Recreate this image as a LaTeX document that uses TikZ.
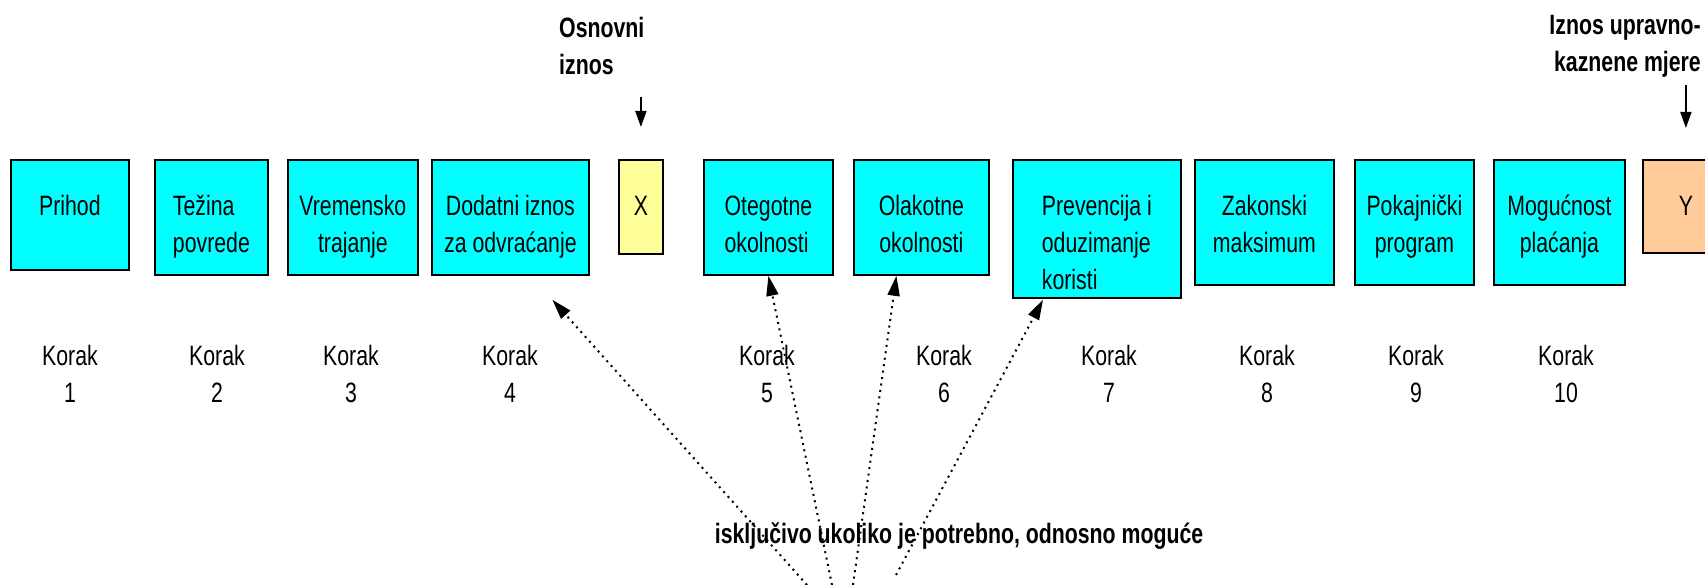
\documentclass[tikz,border=0pt]{standalone}
\usepackage{fontspec}
\setmainfont{Liberation Sans}[FakeStretch=0.76]
\usepackage{tikz}
\usetikzlibrary{arrows.meta}
\tikzset{stepbox/.style = {draw, line width = 1.8pt, inner sep = 0, anchor = north west, align = center, text height = 56pt, font = \fontsize{28}{37}\selectfont}}
\tikzset{korak/.style = {inner sep = 0, anchor = north, align = center, font = \fontsize{28}{37}\selectfont}}
\tikzset{note/.style = {inner sep = 0, font = \fontsize{28}{37}\selectfont\bfseries}}
\tikzset{dotarrow/.style = {line width = 2pt, dash pattern = on 2pt off 4.5pt, -{Triangle[length = 20pt, width = 12pt]}}}
\tikzset{downarrow/.style = {line width = 1.8pt, -{Triangle[length = 16pt, width = 11pt]}}}
\definecolor{mcyan}{rgb}{0, 1, 1}
\definecolor{myellow}{rgb}{1, 1, 0.6}
\definecolor{mpeach}{rgb}{1, 0.8, 0.6}

\begin{document}
\begin{tikzpicture}[x = 1pt, y = -1pt]
      \useasboundingbox (0, 0) rectangle (1705, 585);
      \clip (0, 0) rectangle (1705, 585);

      % text height = first baseline + 37pt per further line
      \node [stepbox, fill = mcyan, minimum width = 118pt, text depth = 54pt] (prihod) at (10, 159) {Prihod};
      \node [stepbox, fill = mcyan, minimum width = 113pt, text height = 93pt, text depth = 22pt, align = left] (tezina) at (154, 159) {Težina\\povrede};
      \node [stepbox, fill = mcyan, minimum width = 130pt, text height = 93pt, text depth = 22pt] (vremensko) at (287, 159) {Vremensko\\trajanje};
      \node [stepbox, fill = mcyan, minimum width = 157pt, text height = 93pt, text depth = 22pt] (dodatni) at (431, 159) {Dodatni iznos\\za odvraćanje};
      \node [stepbox, fill = myellow, minimum width = 44pt, text depth = 38pt] (xbox) at (618, 159) {X};
      \node [stepbox, fill = mcyan, minimum width = 129pt, text height = 93pt, text depth = 22pt, align = left] (otegotne) at (703, 159) {Otegotne\\okolnosti};
      \node [stepbox, fill = mcyan, minimum width = 135pt, text height = 93pt, text depth = 22pt] (olakotne) at (853, 159) {Olakotne\\okolnosti};
      \node [stepbox, fill = mcyan, minimum width = 168pt, text height = 130pt, text depth = 8pt, align = left] (prevencija) at (1012, 159) {Prevencija i\\oduzimanje\\koristi};
      \node [stepbox, fill = mcyan, minimum width = 139pt, text height = 93pt, text depth = 32pt] (zakonski) at (1194, 159) {Zakonski\\maksimum};
      \node [stepbox, fill = mcyan, minimum width = 119pt, text height = 93pt, text depth = 32pt] (pokajnicki) at (1354, 159) {Pokajnički\\program};
      \node [stepbox, fill = mcyan, minimum width = 131pt, text height = 93pt, text depth = 32pt] (mogucnost) at (1493, 159) {Mogućnost\\plaćanja};
      \node [stepbox, fill = mpeach, minimum width = 86pt, text depth = 37pt] (ybox) at (1642, 159) {Y};

      \node [korak] (korak1) at (70, 345) {Korak\\1};
      \node [korak] (korak2) at (217, 345) {Korak\\2};
      \node [korak] (korak3) at (351, 345) {Korak\\3};
      \node [korak] (korak4) at (510, 345) {Korak\\4};
      \node [korak] (korak5) at (767, 345) {Korak\\5};
      \node [korak] (korak6) at (944, 345) {Korak\\6};
      \node [korak] (korak7) at (1109, 345) {Korak\\7};
      \node [korak] (korak8) at (1267, 345) {Korak\\8};
      \node [korak] (korak9) at (1416, 345) {Korak\\9};
      \node [korak] (korak10) at (1566, 345) {Korak\\10};

      \node [note, anchor = north west, align = left] (osnovni) at (559, 17) {Osnovni\\iznos};
      \node [note, anchor = north east, align = right] (iznos) at (1701, 15) {Iznos upravno-\\kaznene mjere};
      \draw [downarrow] ([yshift = 62pt]xbox.north) -- ([yshift = 32pt]xbox.north);
      \draw [downarrow] ([yshift = 74pt]ybox.north) -- ([yshift = 31pt]ybox.north);

      \coordinate (from4) at (807, 585);
      \coordinate (from5) at (832, 585);
      \coordinate (from6) at (853, 585);
      \coordinate (from7) at (896, 575);
      \draw [dotarrow] (from4) -- ([xshift = 42pt, yshift = -24pt]dodatni.south);
      \draw [dotarrow] (from5) -- (otegotne.south);
      \draw [dotarrow] (from6) -- ([xshift = -25pt]olakotne.south);
      \draw [dotarrow] (from7) -- ([xshift = 31pt, yshift = -1pt]prevencija.south west);

      \node [note, anchor = base] (nota) at (959, 543) {isključivo ukoliko je potrebno, odnosno moguće};
    \end{tikzpicture}
\end{document}
